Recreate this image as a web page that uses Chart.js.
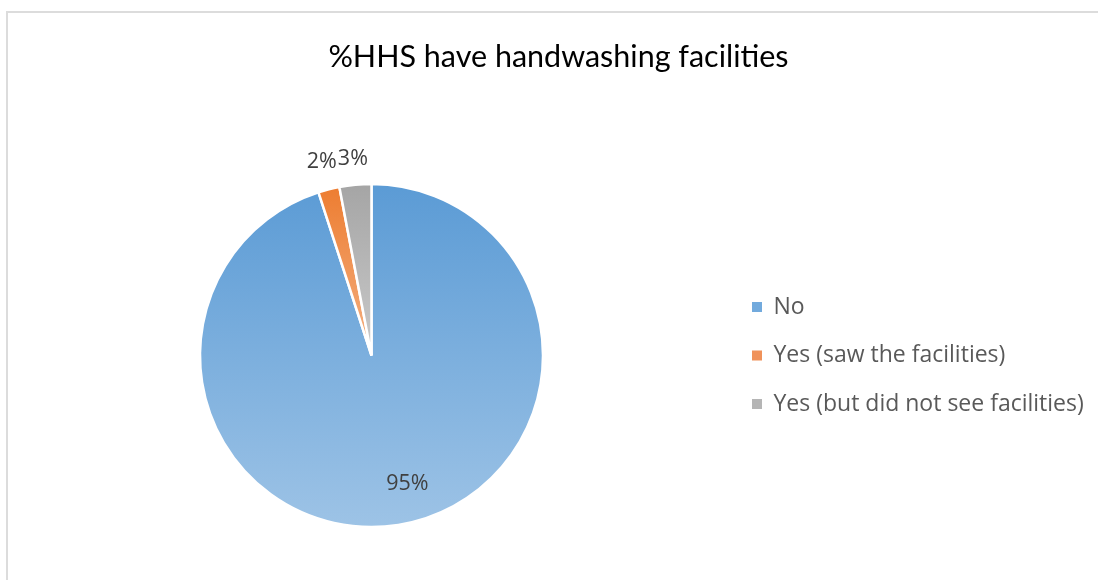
<!DOCTYPE html>
<html>
<head>
<meta charset="utf-8">
<script src="https://cdn.jsdelivr.net/npm/chart.js@4/dist/chart.umd.min.js"></script>
<style>
  html, body { margin: 0; padding: 0; background: #fff; overflow: hidden; width: 1098px; height: 580px; }
  #frame { position: absolute; left: 6px; top: 11px; width: 1200px; height: 700px;
           border-top: 2px solid #dcdcdc; border-left: 2px solid #dcdcdc; }
  #box { position: absolute; left: 0; top: 0; width: 1101px; height: 630px; }
</style>
</head>
<body>
<div id="frame"><div id="box"><canvas id="chart"></canvas></div></div>
<script>
// Survey answers and their shares (percent of households)
const categories = ['No', 'Yes (saw the facilities)', 'Yes (but did not see facilities)'];
const shares = [95, 2, 3];

// Slice fills: vertical gradient from top colour to bottom colour
const topColors = ['#5B9BD5', '#ED7D31', '#A5A5A5'];
const bottomColors = ['#9DC3E6', '#F4B183', '#CACACA'];
const legendColors = ['#72AADD', '#F0925A', '#B5B5B5'];

const PIE_RADIUS = 171.5;
const TITLE_FONT = 'Lato, "Open Sans", sans-serif';
const TEXT_FONT = '"Open Sans", "Noto Sans", sans-serif';

// Legend geometry
const LEGEND_SIZE = 23;
const LEGEND_WEIGHT = 'normal';
const LEGEND_ROW = 48.5;       // distance between legend rows
const LEGEND_PAD = LEGEND_ROW - LEGEND_SIZE;
const LEGEND_BOX = 10;
const CANVAS_W = 1101;
const LEGEND_LEFT = 744 - LEGEND_PAD;  // legend column so that the swatches sit at x = 744
const PIE_CENTER_X = 363.5;    // horizontal centre of the plot area

// Reserve room on the right so the legend column starts at LEGEND_LEFT
const measure = document.createElement('canvas').getContext('2d');
measure.font = LEGEND_WEIGHT + ' ' + LEGEND_SIZE + 'px ' + TEXT_FONT;
const longest = Math.max(...categories.map(c => measure.measureText(c).width));
const legendWidth = LEGEND_PAD + LEGEND_BOX + LEGEND_SIZE / 2 + longest + 10;
const padRight = CANVAS_W - LEGEND_LEFT - legendWidth;
const padLeft = 2 * PIE_CENTER_X - LEGEND_LEFT;

// Vertical extent of a sector, used to stretch each slice's gradient over it
function sectorExtent(cy, r, a0, a1) {
  let ymin = cy, ymax = cy;
  const pts = [a0, a1];
  for (let k = -2; k <= 4; k++) {
    const a = Math.PI / 2 + k * Math.PI;
    if (a > a0 && a < a1) pts.push(a);
  }
  pts.forEach(a => {
    const y = cy + r * Math.sin(a);
    ymin = Math.min(ymin, y);
    ymax = Math.max(ymax, y);
  });
  return [ymin, ymax];
}

function sliceFill(ctx) {
  const chart = ctx.chart;
  const i = ctx.dataIndex;
  const area = chart.chartArea;
  if (!area) return topColors[i];
  const cy = (area.top + area.bottom) / 2;
  const total = shares.reduce((s, v) => s + v, 0);
  let a0 = -Math.PI / 2;
  for (let k = 0; k < i; k++) a0 += shares[k] / total * 2 * Math.PI;
  const a1 = a0 + shares[i] / total * 2 * Math.PI;
  const [y0, y1] = sectorExtent(cy, PIE_RADIUS, a0, a1);
  const g = chart.ctx.createLinearGradient(0, y0, 0, y1);
  g.addColorStop(0, topColors[i]);
  g.addColorStop(1, bottomColors[i]);
  return g;
}

// Centre the title over the whole chart box rather than the padded area
const fullWidthTitle = {
  id: 'fullWidthTitle',
  afterLayout(chart) {
    if (chart.titleBlock) {
      chart.titleBlock.left = 0;
      chart.titleBlock.right = chart.width;
    }
  }
};

// Percentage labels: inside the large slice, just outside the small ones
const sliceLabels = {
  id: 'sliceLabels',
  afterDatasetsDraw(chart, args, opts) {
    const ctx = chart.ctx;
    const meta = chart.getDatasetMeta(0);
    ctx.save();
    ctx.font = opts.size + 'px ' + TEXT_FONT;
    ctx.fillStyle = opts.color;
    ctx.textAlign = 'center';
    ctx.textBaseline = 'middle';
    meta.data.forEach((arc, i) => {
      const p = arc.getProps(['x', 'y', 'startAngle', 'endAngle', 'outerRadius'], true);
      const text = shares[i] + '%';
      let mid = (p.startAngle + p.endAngle) / 2;
      const dx0 = Math.cos(mid), dy0 = Math.sin(mid);
      let x, y;
      if (shares[i] >= 10) {
        mid += opts.insideShift * Math.PI / 180;
        x = p.x + Math.cos(mid) * p.outerRadius * opts.insideRatio;
        y = p.y + Math.sin(mid) * p.outerRadius * opts.insideRatio;
      } else {
        const hw = ctx.measureText(text).width / 2;
        const hh = opts.size / 2;
        const d = p.outerRadius + opts.outsideGap + Math.abs(dx0) * hw + Math.abs(dy0) * hh;
        x = p.x + dx0 * d;
        y = p.y + dy0 * d;
      }
      ctx.fillText(text, x, y);
    });
    ctx.restore();
  }
};

new Chart(document.getElementById('chart'), {
  type: 'pie',
  data: {
    labels: categories,
    datasets: [{
      data: shares,
      backgroundColor: sliceFill,
      borderColor: '#ffffff',
      borderWidth: 2.5,
      radius: PIE_RADIUS
    }]
  },
  plugins: [fullWidthTitle, sliceLabels],
  options: {
    responsive: true,
    maintainAspectRatio: false,
    animation: false,
    layout: { padding: { left: padLeft, right: padRight, top: 0, bottom: 13.5 } },
    plugins: {
      title: {
        display: true,
        text: '%HHS have handwashing facilities',
        color: '#000000',
        font: { family: TITLE_FONT, size: 30.5, weight: 'normal', lineHeight: 1.2 },
        padding: { top: 25.5, bottom: 6.4 }
      },
      legend: {
        position: 'right',
        fullSize: false,
        labels: {
          color: '#595959',
          font: { family: TEXT_FONT, size: LEGEND_SIZE, weight: LEGEND_WEIGHT },
          boxWidth: LEGEND_BOX,
          boxHeight: LEGEND_BOX,
          padding: LEGEND_PAD,
          generateLabels(chart) {
            return Chart.overrides.pie.plugins.legend.labels.generateLabels(chart).map((item, i) => {
              item.fillStyle = legendColors[i];
              item.strokeStyle = legendColors[i];
              item.lineWidth = 0;
              return item;
            });
          }
        }
      },
      tooltip: { enabled: false },
      sliceLabels: { size: 21.5, color: '#404040', insideRatio: 0.778, insideShift: -6.6, outsideGap: 14 }
    }
  }
});
</script>
</body>
</html>
